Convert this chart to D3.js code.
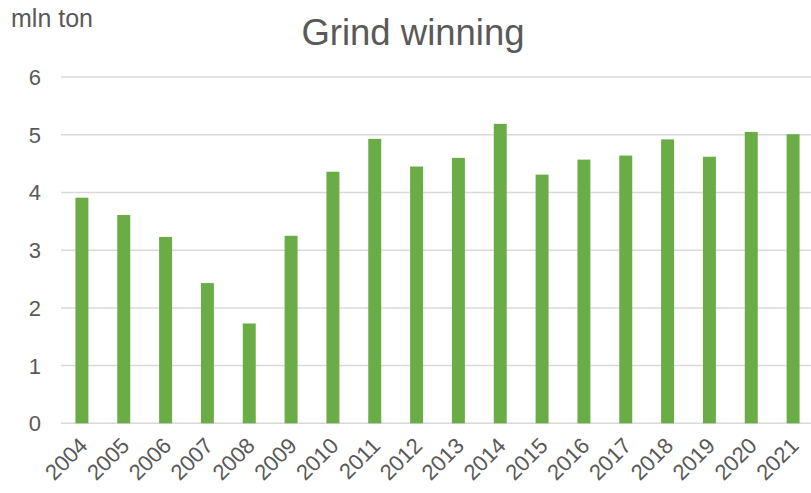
<!DOCTYPE html>
<html>
<head>
<meta charset="utf-8">
<script src="https://cdn.jsdelivr.net/npm/d3@7"></script>
<style>
  body { margin: 0; background: #fff; }
  text { font-family: "Liberation Sans", Arial, sans-serif; fill: #595959; }
</style>
</head>
<body>
<div class="chart"></div>
<script>
// data (mln ton)
var years = ["2004", "2005", "2006", "2007", "2008", "2009", "2010", "2011", "2012",
             "2013", "2014", "2015", "2016", "2017", "2018", "2019", "2020", "2021"];
var values = [3.91, 3.61, 3.23, 2.43, 1.73, 3.25, 4.36, 4.93, 4.45,
              4.60, 5.19, 4.31, 4.57, 4.64, 4.92, 4.62, 5.05, 5.01];
var yTicks = [0, 1, 2, 3, 4, 5, 6];

var W = 811, H = 493;
var svg = d3.select(".chart").append("svg")
  .attr("width", W)
  .attr("height", H);

//Scales
var x = d3.scaleBand()
  .domain(years)
  .range([61, 814])
  .paddingInner(0.69)
  .paddingOuter(0.345);
var y = d3.scaleLinear()
  .domain([0, 6])
  .range([423.3, 77.1]);

//Gridlines
svg.append("g").selectAll("line")
  .data(yTicks)
  .enter().append("line")
  .attr("x1", 61)
  .attr("x2", W)
  .attr("y1", function (d) { return y(d); })
  .attr("y2", function (d) { return y(d); })
  .style("stroke", "#d9d9d9")
  .style("stroke-width", "1.5px");

//Y tick labels
svg.append("g").selectAll("text")
  .data(yTicks)
  .enter().append("text")
  .attr("x", 41)
  .attr("y", function (d) { return y(d); })
  .attr("dy", "0.36em")
  .attr("text-anchor", "end")
  .style("font-size", "22px")
  .text(function (d) { return d; });

//Bars
svg.append("g").selectAll("rect")
  .data(values)
  .enter().append("rect")
  .attr("x", function (d, i) { return x(years[i]); })
  .attr("y", function (d) { return y(d); })
  .attr("width", x.bandwidth())
  .attr("height", function (d) { return y(0) - y(d); })
  .style("fill", "#6aac46");

//X labels, rotated
svg.append("g").selectAll("text")
  .data(years)
  .enter().append("text")
  .attr("transform", function (d) {
    return "translate(" + (x(d) + x.bandwidth() / 2 + 7) + ",447) rotate(-45)";
  })
  .attr("text-anchor", "end")
  .style("font-size", "22px")
  .text(function (d) { return d; });

//Title and unit
svg.append("text")
  .attr("x", 413)
  .attr("y", 44.5)
  .attr("text-anchor", "middle")
  .style("font-size", "36.5px")
  .text("Grind winning");

svg.append("text")
  .attr("x", 11)
  .attr("y", 27.3)
  .style("font-size", "25px")
  .text("mln ton");
</script>
</body>
</html>
